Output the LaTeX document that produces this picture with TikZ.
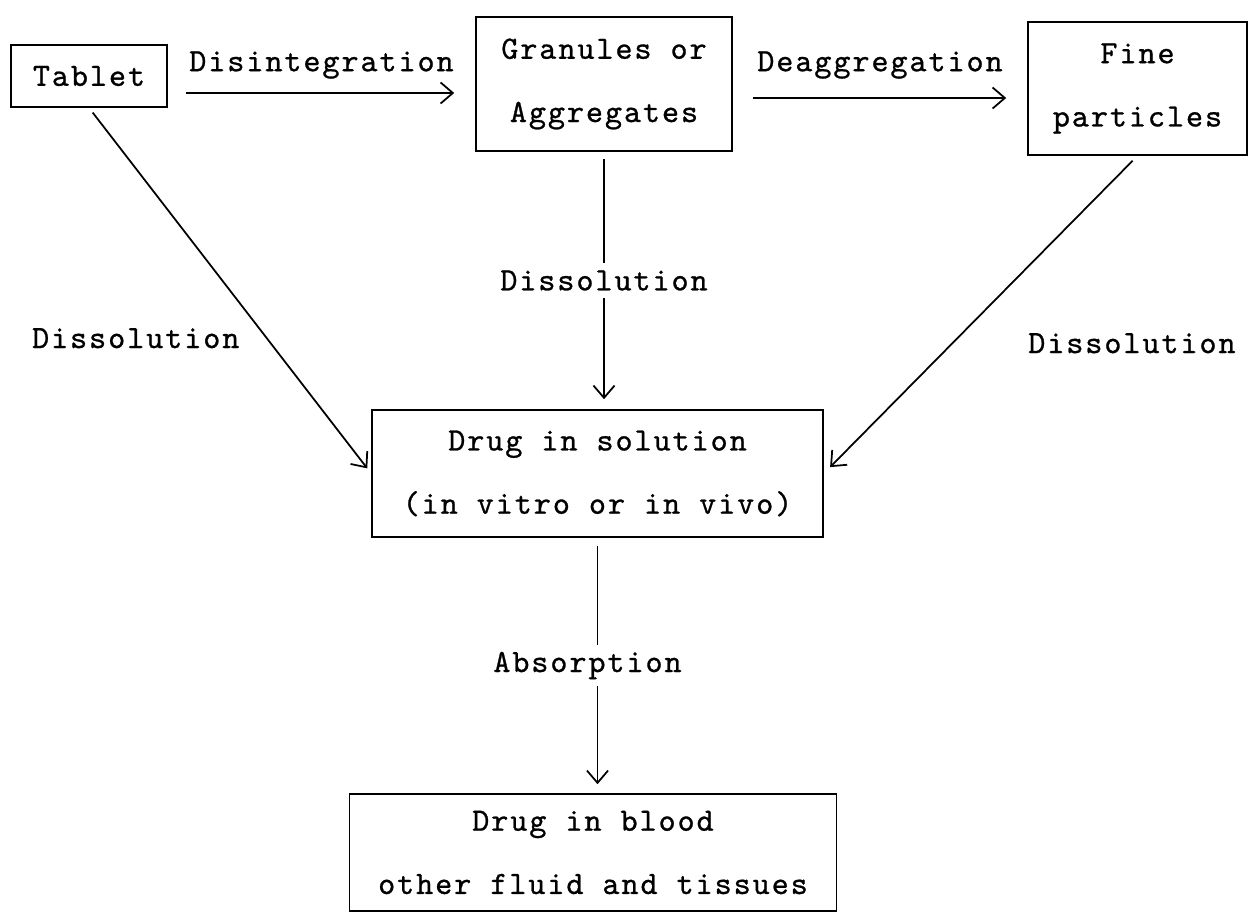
\documentclass[tikz,border=0pt]{standalone}
\usepackage{fontspec}
\newfontfamily\typefont{lmmono10-regular}[Extension=.otf,LetterSpace=6,FakeBold=0.8]
\usetikzlibrary{positioning}
\usetikzlibrary{arrows.meta}

\tikzset{
  box/.style={draw, line width=0.9pt, align=center, inner sep=0pt,
    font=\typefont\fontsize{18.5}{36}\selectfont},
  lbl/.style={inner sep=4pt, font=\typefont\fontsize{18.5}{36}\selectfont},
  flow/.style={->, line width=1pt},
  >={Straight Barb[length=7pt,width=12pt]}
}

\begin{document}
\begin{tikzpicture}[on grid]
  \useasboundingbox (0,0) rectangle (25,-18.28);
  \node[box, minimum width=3.12cm, minimum height=1.24cm] (tablet) at (1.78,-1.52) {Tablet};
  \node[box, minimum width=5.12cm, minimum height=2.68cm] (granules) [below right=0.16cm and 10.3cm of tablet] {Granules or\\Aggregates};
  \node[box, minimum width=4.38cm, minimum height=2.66cm] (fine) [below right=0.09cm and 10.67cm of granules] {Fine\\particles};
  \node[box, minimum width=9.02cm, minimum height=2.54cm] (solution) [below left=7.79cm and 0.13cm of granules] {Drug in solution\\(in vitro or in vivo)};
  \node[box, minimum width=9.74cm, minimum height=2.34cm] (blood) [below left=7.58cm and 0.09cm of solution] {Drug in blood\\other fluid and tissues};

  % horizontal arrows sit a bit below the box centres
  \coordinate (t1) at ([yshift=-0.34cm]tablet.east);
  \coordinate (g1) at ([yshift=-0.28cm]granules.east);

  \draw[flow, shorten <=0.36cm, shorten >=0.42cm] (t1) -- (t1 -| granules.west)
    node[lbl, midway, yshift=0.56cm] {Disintegration};
  \draw[flow, shorten <=0.4cm, shorten >=0.42cm] (g1) -- (g1 -| fine.west)
    node[lbl, midway, yshift=0.66cm] {Deaggregation};
  \draw[flow, shorten <=0.12cm, shorten >=0.13cm] (tablet.south) -- (solution.west)
    node[lbl, pos=0.63, left=0.39cm] {Dissolution};
  \draw[flow, shorten <=0.14cm, shorten >=0.18cm] (fine.south) -- (solution.east)
    node[lbl, pos=0.59, right=1.36cm] {Dissolution};
  \draw[flow, shorten <=0.14cm, shorten >=0.2cm] (granules.south) -- (granules.south |- solution.north)
    node[lbl, fill=white, midway] {Dissolution};
  \draw[flow, shorten <=0.16cm, shorten >=0.18cm] (solution.south) -- (solution.south |- blood.north)
    node[lbl, fill=white, midway, xshift=-0.2cm] {Absorption};
\end{tikzpicture}
\end{document}
